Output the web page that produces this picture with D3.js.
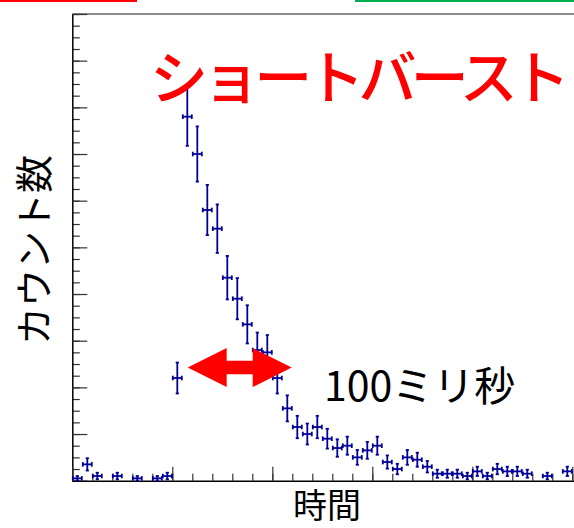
<!DOCTYPE html>
<html><head><meta charset="utf-8">
<script src="https://cdn.jsdelivr.net/npm/d3@7"></script>
<style>
html,body{margin:0;padding:0;background:#fff;}
svg{display:block;}
text{font-family:"Noto Sans CJK JP","Noto Sans",sans-serif;}
</style></head>
<body>
<svg id="c" width="574" height="528"></svg>
<script>
// bin index (each bin = 1 unit of time) and counts
const bins = [0,1,2,3,4,5,6,7,8,9,10,11,12,13,14,15,16,17,18,19,20,21,22,23,24,25,26,27,28,29,30,31,32,33,34,35,36,37,38,39,40,41,42,43,44,45,46,47,48,49];
const counts = [1,7,2,0,2,0,1,0,1,2,44,156,140,116,108,87,78,67,56,55,44,31,23,20,23,18,14,15,10,13,15,8,5,10,9,6,3,3,3,2,4,2,5,4,4,3,0,2,0,4];
const xMajorTicks = [0,10,20,30,40,50,60];
const xMinorTicks = d3.range(0,61,2);
const yMajorTicks = [0,20,40,60,80,100,120,140,160,180,200];
const yMinorTicks = d3.range(0,201,5);
const titleText = "ショートバースト";
const arrowText = "100ミリ秒";
const arrowSpan = [11.54, 21.94]; // arrow tips in bin units
const arrowLevel = 48.5;          // arrow height in counts
const yLabel = "カウント数";
const xLabel = "時間";

const svg = d3.select("#c");
const x = d3.scaleLinear().domain([0,60]).range([72.3,672.3]);
const y = d3.scaleLinear().domain([0,200]).range([480.7,14]);
const blue = "#000099";

// top decoration lines
svg.append("rect").attr("x",0).attr("y",0).attr("width",137).attr("height",2).attr("fill","#ff0000");
svg.append("rect").attr("x",355).attr("y",0).attr("width",219).attr("height",2).attr("fill","#00b050");

// frame top
svg.append("line").attr("x1",x(0)).attr("x2",574).attr("y1",y(200)).attr("y2",y(200))
  .attr("stroke","#666").attr("stroke-width",1.3);

// axes
const gY = svg.append("g").attr("transform",`translate(${x(0)},0)`);
gY.call(d3.axisLeft(y).tickValues(yMinorTicks).tickSize(-7.5).tickFormat(""));
gY.call(g=>g.select(".domain").remove());
const gY2 = svg.append("g").attr("transform",`translate(${x(0)},0)`);
gY2.call(d3.axisLeft(y).tickValues(yMajorTicks).tickSize(-15).tickSizeOuter(0).tickFormat(""));
const gX = svg.append("g").attr("transform",`translate(0,${y(0)})`);
gX.call(d3.axisBottom(x).tickValues(xMinorTicks).tickSize(-7).tickFormat(""));
gX.call(g=>g.select(".domain").remove());
const gX2 = svg.append("g").attr("transform",`translate(0,${y(0)})`);
gX2.call(d3.axisBottom(x).tickValues(xMajorTicks).tickSize(-14).tickSizeOuter(0).tickFormat(""));
svg.selectAll(".tick line").attr("stroke","#333").attr("stroke-width",1.2);
svg.selectAll(".domain").attr("stroke","#000").attr("stroke-width",1.5);

// data points with error bars
const pts = bins.map((b,i)=>({b, n:counts[i]})).filter(d=>d.n>0);
const g = svg.append("g").attr("stroke",blue).attr("stroke-width",1.8).attr("fill","none");
pts.forEach(d=>{
  const cx = x(d.b+0.5), cy = y(d.n), e = Math.sqrt(d.n);
  const yt = y(d.n+e), yb = y(Math.max(0,d.n-e));
  const xl = x(d.b)+0.5, xr = x(d.b+1)-0.5;
  g.append("line").attr("x1",cx).attr("x2",cx).attr("y1",yt).attr("y2",yb);
  g.append("line").attr("x1",xl).attr("x2",xr).attr("y1",cy).attr("y2",cy);
  g.append("line").attr("x1",cx-1.6).attr("x2",cx+1.6).attr("y1",yt).attr("y2",yt);
  g.append("line").attr("x1",cx-1.6).attr("x2",cx+1.6).attr("y1",yb).attr("y2",yb);
  g.append("line").attr("x1",xl).attr("x2",xl).attr("y1",cy-2.3).attr("y2",cy+2.3);
  g.append("line").attr("x1",xr).attr("x2",xr).attr("y1",cy-2.3).attr("y2",cy+2.3);
});

// double arrow
const ax0 = x(arrowSpan[0]), ax1 = x(arrowSpan[1]), ay = y(arrowLevel);
const hl = 39, hh = 19.5, sh = 6.8;
const arrow = [[ax0,ay],[ax0+hl,ay-hh],[ax0+hl,ay-sh],[ax1-hl,ay-sh],[ax1-hl,ay-hh],[ax1,ay],
  [ax1-hl,ay+hh],[ax1-hl,ay+sh],[ax0+hl,ay+sh],[ax0+hl,ay+hh]];
svg.append("path").attr("d",d3.line()(arrow)+"Z").attr("fill","#ff0000");

// texts
svg.append("text").attr("x",150).attr("y",99).attr("font-size",58).attr("font-weight",500).attr("fill","#ff0000")
  .attr("textLength",420).attr("lengthAdjust","spacing").text(titleText);
svg.append("text").attr("x",324).attr("y",401).attr("font-size",41).attr("fill","#000").text(arrowText);
svg.append("text").attr("transform","translate(48,250) rotate(-90)").attr("text-anchor","middle")
  .attr("font-size",38).attr("fill","#000").text(yLabel);
svg.append("text").attr("x",327).attr("y",518).attr("text-anchor","middle")
  .attr("font-size",34).attr("fill","#000").text(xLabel);
</script>
</body></html>
